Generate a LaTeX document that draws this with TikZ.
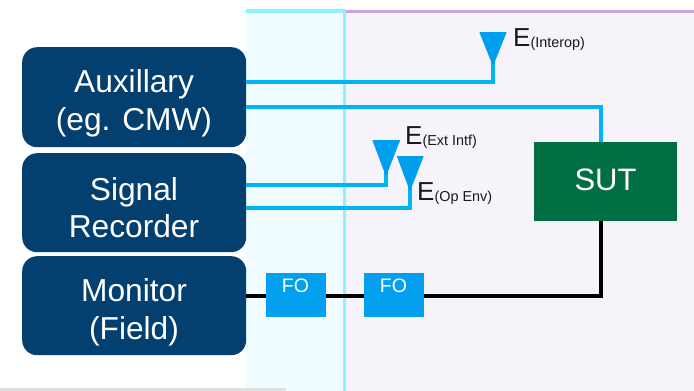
\documentclass[tikz,border=0pt]{standalone}
\usepackage{fontspec}
\setmainfont{Liberation Sans}
\definecolor{navy}{HTML}{03406F}
\definecolor{wire}{HTML}{00B4F5}
\definecolor{ant}{HTML}{009FEE}
\definecolor{fobox}{HTML}{02A0EE}
\definecolor{sutg}{HTML}{026F42}
\definecolor{zonea}{HTML}{F0FCFF}
\definecolor{zoneb}{HTML}{F7F3FA}
\definecolor{edgea}{HTML}{8FF0FF}
\definecolor{edgeb}{HTML}{C8A6DA}
\newcommand{\esub}[1]{E{\fontsize{14.4pt}{16pt}\selectfont\raisebox{-1pt}{#1}}}
\tikzset{
  unitbox/.style={draw=none,fill=navy,rounded corners=15pt,minimum width=224pt,inner sep=0pt,anchor=north west},
  unittext/.style={text=white,align=center,inner sep=0pt,font=\fontsize{31.7pt}{37.5pt}\selectfont},
  fobx/.style={fill=fobox,minimum width=59.5pt,minimum height=44pt,inner sep=0pt,anchor=north west},
  folabel/.style={text=white,font=\fontsize{19.5pt}{22pt}\selectfont,inner sep=0pt},
  sutbx/.style={fill=sutg,minimum width=143pt,minimum height=79pt,inner sep=0pt,anchor=north west},
  sutlabel/.style={text=white,font=\fontsize{31pt}{34pt}\selectfont,inner sep=0pt},
  bluew/.style={draw=wire,line width=4pt,line join=miter},
  blackw/.style={draw=black,line width=3.6pt},
  antenna/.style={fill=ant,draw=ant,line width=1pt,line join=round},
  elabel/.style={inner sep=0pt,anchor=base west,text=black!90,font=\fontsize{26pt}{28pt}\selectfont}
}
\begin{document}
\begin{tikzpicture}[x=1pt,y=-1pt]
\useasboundingbox (0,0) rectangle (694,391);
\fill[white] (0,0) rectangle (694,391);
\fill[zonea] (246,11) rectangle (344,391);
\fill[zoneb] (344,11) rectangle (694,391);
\draw[edgeb,line width=3pt] (344,11) -- (694,11);
\draw[edgea,line width=3.4pt] (246,11) -- (344.5,11) -- (344.5,391);
\fill[black!12] (0,388) rectangle (286,391);

\node[unitbox,minimum height=100pt] (aux) at (22,47) {};
\node[unitbox,minimum height=99pt] (sig) at (22,153) {};
\node[unitbox,minimum height=99pt] (mon) at (22,256) {};
\node[unittext] (auxt) at (134,103.5) {Auxillary\\(eg. CMW)};
\node[unittext] (sigt) at (134,207.5) {Signal\\Recorder};
\node[unittext] (mont) at (134,312.5) {Monitor\\(Field)};

\node[sutbx] (sut) at (534,142) {};
\node[sutlabel] (sutt) at (605.5,179.5) {SUT};
\node[fobx] (fo1) at (266,273) {};
\node[fobx] (fo2) at (364,273) {};
\node[folabel] (fo1t) at (295.5,286) {FO};
\node[folabel] (fo2t) at (393.5,286) {FO};

\coordinate (a1) at (493,62);
\coordinate (a2) at (386,172);
\coordinate (a3) at (410,187);
\coordinate (auxa) at (246,81.5);
\coordinate (auxb) at (246,107);
\coordinate (siga) at (246,185);
\coordinate (sigb) at (246,208);
\coordinate (mona) at (246,296);
\coordinate (sutin) at (601,142);
\coordinate (sutout) at (601,221);

\draw[bluew] (auxa) -| (a1);
\draw[bluew] (auxb) -| (sutin);
\draw[bluew] (siga) -| (a2);
\draw[bluew] (sigb) -| (a3);

\draw[blackw] (mona) -- (fo1.west |- mona);
\draw[blackw] (fo1.east |- mona) -- (fo2.west |- mona);
\draw[blackw,line join=miter] (fo2.east |- mona) -| (sutout);

\fill[antenna] (480,32.5) -- (506,32.5) -- (493,65) -- cycle;
\fill[antenna] (373,140.5) -- (399.5,140.5) -- (386,175) -- cycle;
\fill[antenna] (397.5,156.5) -- (423,156.5) -- (410,190) -- cycle;

\node[elabel] (e1) at (513,46) {\esub{(Interop)}};
\node[elabel] (e2) at (405,144) {\esub{(Ext Intf)}};
\node[elabel] (e3) at (417,200) {\esub{(Op Env)}};
\end{tikzpicture}
\end{document}
